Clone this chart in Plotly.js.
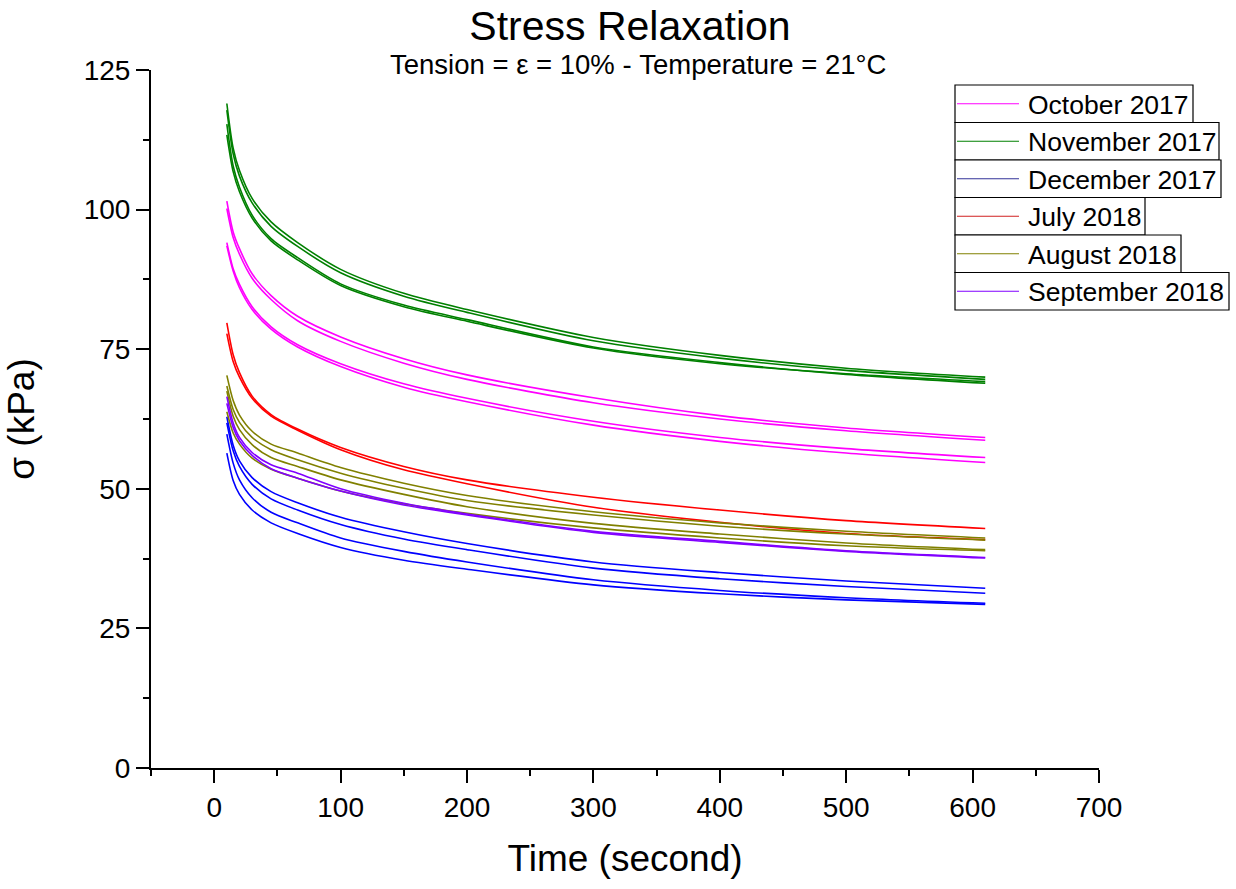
<!DOCTYPE html>
<html>
<head>
<meta charset="utf-8">
<script src="https://cdn.plot.ly/plotly-3.0.1.min.js"></script>
<style>
html,body{margin:0;padding:0;background:#ffffff;}
#chart{width:1236px;height:889px;}
</style>
</head>
<body>
<div id="chart"></div>
<script>
// ---- Data ----
const time = [10, 15, 20, 30, 45, 66, 100, 150, 200, 300, 400, 500, 610];

// October 2017 (magenta)
const oct2017_a = [101.5, 96.0, 93.0, 88.5, 84.6, 80.9, 77.2, 73.3, 70.4, 66.3, 63.1, 60.9, 59.2];
const oct2017_b = [100.2, 95.0, 92.0, 87.7, 83.9, 80.1, 76.4, 72.5, 69.6, 65.4, 62.5, 60.4, 58.7];
const oct2017_c = [94.1, 89.4, 86.6, 82.6, 79.0, 75.8, 72.4, 68.8, 66.2, 62.1, 59.2, 57.2, 55.6];
const oct2017_d = [93.5, 89.0, 86.0, 82.1, 78.6, 75.4, 71.9, 68.2, 65.6, 61.4, 58.5, 56.4, 54.7];

// November 2017 (green)
const nov2017_a = [119.0, 111.0, 107.0, 102.0, 97.8, 94.1, 89.3, 85.0, 82.1, 77.1, 73.9, 71.6, 70.0];
const nov2017_b = [117.8, 110.0, 106.0, 101.2, 97.0, 93.4, 88.7, 84.5, 81.6, 76.5, 73.4, 71.2, 69.6];
const nov2017_c = [115.3, 107.8, 104.0, 99.0, 94.8, 91.4, 86.7, 82.9, 80.3, 75.4, 72.6, 70.5, 68.9];
const nov2017_d = [113.4, 106.8, 103.2, 98.5, 94.4, 91.0, 86.4, 82.6, 80.0, 75.2, 72.4, 70.6, 69.2];

// December 2017 (blue)
const dec2017_a = [62.9, 57.8, 55.0, 52.0, 49.5, 47.5, 44.9, 42.3, 40.2, 36.9, 35.0, 33.5, 32.2];
const dec2017_b = [61.8, 56.8, 54.0, 50.8, 48.2, 46.2, 43.6, 41.0, 39.1, 35.8, 33.9, 32.5, 31.3];
const dec2017_c = [59.8, 54.6, 51.6, 48.4, 45.8, 43.9, 41.2, 38.8, 36.9, 33.7, 31.8, 30.5, 29.5];
const dec2017_d = [56.4, 51.5, 49.0, 46.2, 43.9, 42.0, 39.5, 37.2, 35.6, 32.8, 31.2, 30.1, 29.3];

// July 2018 (red)
const jul2018_a = [79.7, 74.0, 70.8, 66.6, 63.3, 60.7, 57.4, 54.0, 51.6, 48.5, 46.2, 44.3, 42.9];
const jul2018_b = [77.8, 72.8, 70.0, 66.2, 63.0, 60.5, 57.0, 53.4, 50.9, 46.7, 44.0, 42.0, 40.9];

// August 2018 (olive)
const aug2018_a = [70.3, 65.8, 63.2, 60.3, 58.0, 56.4, 53.8, 51.0, 48.8, 45.9, 43.9, 42.4, 41.2];
const aug2018_b = [68.4, 64.2, 61.9, 59.2, 57.0, 55.2, 52.8, 50.1, 47.9, 45.3, 43.3, 41.9, 40.8];
const aug2018_c = [67.5, 63.0, 60.6, 57.9, 55.6, 54.0, 51.6, 49.0, 46.8, 43.8, 41.9, 40.3, 39.1];
const aug2018_d = [63.8, 60.0, 58.0, 55.5, 53.5, 51.9, 49.6, 47.3, 45.6, 43.0, 41.2, 39.8, 38.9];

// September 2018 (violet)
const sep2018_a = [66.5, 61.8, 59.2, 56.5, 54.3, 52.8, 50.0, 47.4, 45.5, 42.4, 40.6, 38.9, 37.7];
const sep2018_b = [65.3, 61.0, 58.6, 56.0, 53.6, 51.9, 49.6, 47.1, 45.3, 42.2, 40.4, 38.8, 37.6];

const seriesNames = ["October 2017", "November 2017", "December 2017", "July 2018", "August 2018", "September 2018"];
const seriesCurves = [
  [oct2017_a, oct2017_b, oct2017_c, oct2017_d],
  [nov2017_a, nov2017_b, nov2017_c, nov2017_d],
  [dec2017_a, dec2017_b, dec2017_c, dec2017_d],
  [jul2018_a, jul2018_b],
  [aug2018_a, aug2018_b, aug2018_c, aug2018_d],
  [sep2018_a, sep2018_b]
];
const seriesColors = ["#ff00ff", "#008000", "#0000ff", "#ff0000", "#808000", "#8000ff"];
const legendColors = ["#ff00ff", "#008000", "#333399", "#d02020", "#808000", "#8000ff"];

const xTickVals = [0, 100, 200, 300, 400, 500, 600, 700];
const yTickVals = [0, 25, 50, 75, 100, 125];

// ---- Traces ----
const traces = [];
seriesCurves.forEach((curves, si) => {
  curves.forEach((vals) => {
    traces.push({
      type: "scatter",
      mode: "lines",
      x: time,
      y: vals,
      name: seriesNames[si],
      legendgroup: seriesNames[si],
      showlegend: false,
      line: {color: seriesColors[si], width: 1.6, shape: "spline", smoothing: 0.8},
      hoverinfo: "x+y+name"
    });
  });
});

// ---- Layout helpers (pixel -> paper) ----
const M = {l: 151, r: 137, t: 70, b: 121};
const W = 1236, H = 889;
const PW = W - M.l - M.r, PH = H - M.t - M.b;
const px = v => (v - M.l) / PW;
const py = v => (H - M.b - v) / PH;

const FONT = "Arial, 'Liberation Sans', Helvetica, sans-serif";

// Custom boxed legend (one box per entry, as in the reference)
const legTop = 85, legRowH = 37.5, legLeft = 955;
const legRight = [1193, 1219, 1221, 1145, 1181, 1229];
const shapes = [];
const annotations = [];
seriesNames.forEach((nm, i) => {
  const y0 = legTop + i * legRowH, y1 = y0 + legRowH, yc = (y0 + y1) / 2;
  shapes.push({type: "rect", xref: "paper", yref: "paper",
    x0: px(legLeft), x1: px(legRight[i]), y0: py(y1), y1: py(y0),
    line: {color: "#000000", width: 1.2}, fillcolor: "rgba(255,255,255,1)", layer: "above"});
  shapes.push({type: "line", xref: "paper", yref: "paper",
    x0: px(957), x1: px(1019), y0: py(yc), y1: py(yc),
    line: {color: legendColors[i], width: 1.2}, layer: "above"});
  annotations.push({xref: "paper", yref: "paper", x: px(1026), y: py(yc + 1),
    xanchor: "left", yanchor: "middle", showarrow: false, text: nm,
    font: {family: FONT, size: 26.5, color: "#000000"}});
});

// Subtitle
annotations.push({xref: "paper", yref: "paper", x: px(637.5), y: py(82),
  xanchor: "center", yanchor: "bottom", showarrow: false,
  text: "Tension = \u03b5 = 10% - Temperature = 21\u00b0C",
  font: {family: FONT, size: 27.5, color: "#000000"}});

const layout = {
  width: W, height: H,
  margin: M,
  paper_bgcolor: "#ffffff",
  plot_bgcolor: "#ffffff",
  showlegend: false,
  font: {family: FONT, color: "#000000"},
  title: {
    text: "Stress Relaxation",
    font: {family: FONT, size: 41, color: "#000000"},
    x: px(630), xref: "paper", xanchor: "center",
    y: (H - 40) / H, yref: "container", yanchor: "bottom"
  },
  xaxis: {
    range: [-50, 700],
    tickvals: xTickVals,
    ticktext: xTickVals.map(String),
    ticks: "outside", ticklen: 13, tickwidth: 2, tickcolor: "#000000",
    minor: {dtick: 50, tick0: 0, ticks: "outside", ticklen: 6, tickwidth: 2, tickcolor: "#000000", showgrid: false},
    showline: true, linewidth: 2, linecolor: "#000000",
    showgrid: false, zeroline: false,
    tickfont: {family: FONT, size: 28, color: "#000000"},
    title: {text: "Time (second)", font: {family: FONT, size: 37, color: "#000000"}, standoff: 24},
    automargin: false
  },
  yaxis: {
    range: [0, 125],
    tickvals: yTickVals,
    ticktext: yTickVals.map(String),
    ticks: "outside", ticklen: 13, tickwidth: 2, tickcolor: "#000000",
    minor: {dtick: 12.5, tick0: 0, ticks: "outside", ticklen: 6, tickwidth: 2, tickcolor: "#000000", showgrid: false},
    showline: true, linewidth: 2, linecolor: "#000000",
    showgrid: false, zeroline: false,
    tickfont: {family: FONT, size: 28, color: "#000000"},
    title: {text: "\u03c3 (kPa)", font: {family: FONT, size: 37, color: "#000000"}, standoff: 38},
    automargin: false
  },
  shapes: shapes,
  annotations: annotations
};

Plotly.newPlot("chart", traces, layout, {displayModeBar: false});
</script>
</body>
</html>
